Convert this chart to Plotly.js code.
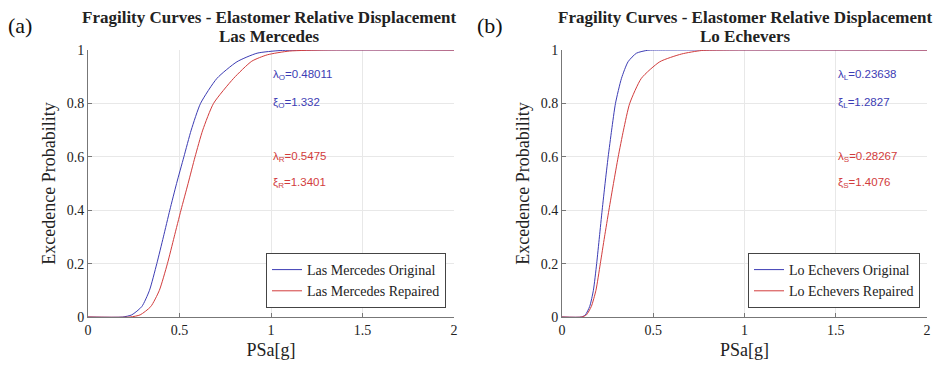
<!DOCTYPE html>
<html>
<head>
<meta charset="utf-8">
<script src="https://cdn.plot.ly/plotly-3.0.1.min.js"></script>
<style>html,body{margin:0;padding:0;background:#fff;}#chart{width:940px;height:365px;}</style>
</head>
<body>
<div id="chart"></div>
<script>
// Panel (a) Las Mercedes
const lmOrigX = [0, 0.19, 0.239, 0.294, 0.336, 0.376, 0.412, 0.447, 0.484, 0.524, 0.564, 0.615, 0.705, 0.814, 0.924, 1.05, 1.2, 2];
const lmOrigY = [0, 0, 0.008, 0.039, 0.10, 0.20, 0.30, 0.40, 0.50, 0.60, 0.70, 0.80, 0.894, 0.956, 0.988, 0.998, 1, 1];
const lmRepX = [0, 0.23, 0.285, 0.343, 0.39, 0.434, 0.471, 0.508, 0.547, 0.585, 0.627, 0.686, 0.796, 0.895, 0.98, 1.1, 1.3, 2];
const lmRepY = [0, 0, 0.008, 0.039, 0.10, 0.20, 0.30, 0.40, 0.50, 0.60, 0.70, 0.80, 0.894, 0.958, 0.982, 0.996, 1, 1];
// Panel (b) Lo Echevers
const leOrigX = [0, 0.106, 0.128, 0.152, 0.172, 0.19, 0.205, 0.22, 0.236, 0.253, 0.272, 0.293, 0.326, 0.362, 0.408, 0.47, 0.55, 2];
const leOrigY = [0, 0, 0.008, 0.04, 0.10, 0.20, 0.30, 0.40, 0.50, 0.60, 0.70, 0.80, 0.894, 0.956, 0.988, 0.999, 1, 1];
const leRepX = [0, 0.11, 0.134, 0.161, 0.186, 0.21, 0.233, 0.257, 0.282, 0.308, 0.337, 0.371, 0.435, 0.536, 0.655, 0.764, 0.9, 2];
const leRepY = [0, 0, 0.008, 0.04, 0.10, 0.20, 0.30, 0.40, 0.50, 0.60, 0.70, 0.80, 0.894, 0.956, 0.985, 0.998, 1, 1];

const xTicks = [0, 0.5, 1, 1.5, 2];
const xTickText = ['0', '0.5', '1', '1.5', '2'];
const yTicks = [0, 0.2, 0.4, 0.6, 0.8, 1];
const yTickText = ['0', '0.2', '0.4', '0.6', '0.8', '1'];

const paramsA = ['λ<sub>O</sub>=0.48011', 'ξ<sub>O</sub>=1.332', 'λ<sub>R</sub>=0.5475', 'ξ<sub>R</sub>=1.3401'];
const paramsB = ['λ<sub>L</sub>=0.23638', 'ξ<sub>L</sub>=1.2827', 'λ<sub>S</sub>=0.28267', 'ξ<sub>S</sub>=1.4076'];
const paramY = [0.906, 0.80, 0.60, 0.503];

const titleMain = 'Fragility Curves - Elastomer Relative Displacement';
const titleA = 'Las Mercedes';
const titleB = 'Lo Echevers';

const BLUE = '#3c3cb4';
const RED = '#d23c3c';
const SERIF = '"Liberation Serif", "Times New Roman", serif';
const SANS = '"Liberation Sans", Arial, sans-serif';

function line(x, y, name, color, xa, ya, leg) {
  return {x: x, y: y, name: name, type: 'scatter', mode: 'lines', xaxis: xa, yaxis: ya, legend: leg,
    line: {color: color, width: 1, shape: 'spline', smoothing: 0.6}};
}

const data = [
  line(lmOrigX, lmOrigY, 'Las Mercedes Original', BLUE, 'x', 'y', 'legend'),
  line(lmRepX, lmRepY, 'Las Mercedes Repaired', RED, 'x', 'y', 'legend'),
  line(leOrigX, leOrigY, 'Lo Echevers Original', BLUE, 'x2', 'y2', 'legend2'),
  line(leRepX, leRepY, 'Lo Echevers Repaired', RED, 'x2', 'y2', 'legend2')
];

const yDom = [1 - 317/365, 1 - 50/365];
function xaxis(dom, anchor) {
  return {domain: dom, anchor: anchor, range: [0, 2], tickvals: xTicks, ticktext: xTickText,
    showgrid: true, gridcolor: '#e8e8e8', zeroline: false, showline: true, linecolor: '#777', linewidth: 1,
    ticks: 'inside', ticklen: 4, tickcolor: '#777', tickfont: {family: SERIF, size: 14, color: '#222'},
    title: {text: 'PSa[g]', font: {family: SERIF, size: 18, color: '#222'}, standoff: 6}, fixedrange: true};
}
function yaxis(anchor) {
  return {domain: yDom, anchor: anchor, range: [0, 1], tickvals: yTicks, ticktext: yTickText,
    showgrid: true, gridcolor: '#e8e8e8', zeroline: false, showline: true, linecolor: '#777', linewidth: 1,
    ticks: 'inside', ticklen: 4, tickcolor: '#777', tickfont: {family: SERIF, size: 14, color: '#222'},
    title: {text: 'Excedence Probability', font: {family: SERIF, size: 18, color: '#222'}, standoff: 6}, fixedrange: true};
}

const annotations = [];
paramsA.forEach((t, i) => annotations.push({xref: 'x', yref: 'y', x: 1.0, y: paramY[i], text: t, showarrow: false,
  xanchor: 'left', yanchor: 'middle', font: {family: SANS, size: 11.5, color: i < 2 ? BLUE : RED}}));
paramsB.forEach((t, i) => annotations.push({xref: 'x2', yref: 'y2', x: 1.5, y: paramY[i], text: t, showarrow: false,
  xanchor: 'left', yanchor: 'middle', font: {family: SANS, size: 11.5, color: i < 2 ? BLUE : RED}}));
// titles
function titleAnn(cx, cy, txt) {
  return {xref: 'paper', yref: 'paper', x: cx/940, y: 1 - cy/365, text: '<b>' + txt + '</b>', showarrow: false,
    xanchor: 'center', yanchor: 'middle', font: {family: SERIF, size: 17, color: '#222'}};
}
annotations.push(titleAnn(269, 17, titleMain));
annotations.push(titleAnn(269, 36, titleA));
annotations.push(titleAnn(745, 17, titleMain));
annotations.push(titleAnn(745, 36, titleB));
annotations.push({xref: 'paper', yref: 'paper', x: 6/940, y: 1 - 25/365, text: '(a)', showarrow: false,
  xanchor: 'left', yanchor: 'middle', font: {family: SERIF, size: 22, color: '#111'}});
annotations.push({xref: 'paper', yref: 'paper', x: 475/940, y: 1 - 25/365, text: '(b)', showarrow: false,
  xanchor: 'left', yanchor: 'middle', font: {family: SERIF, size: 22, color: '#111'}});

const legendBase = {bgcolor: '#fff', bordercolor: '#444', borderwidth: 1, font: {family: SERIF, size: 14, color: '#222'},
  xanchor: 'right', yanchor: 'bottom', tracegroupgap: 0, itemwidth: 30};

const layout = {
  width: 940, height: 365, margin: {l: 0, r: 0, t: 0, b: 0}, paper_bgcolor: '#fff', plot_bgcolor: '#fff',
  xaxis: xaxis([88/940, 454/940], 'y'),
  yaxis: yaxis('x'),
  xaxis2: xaxis([562/940, 927/940], 'y2'),
  yaxis2: yaxis('x2'),
  legend: Object.assign({}, legendBase, {x: 446/940, y: 1 - 308/365}),
  legend2: Object.assign({}, legendBase, {x: 920/940, y: 1 - 308/365}),
  annotations: annotations
};

Plotly.newPlot('chart', data, layout, {displayModeBar: false, staticPlot: true});
</script>
</body>
</html>
